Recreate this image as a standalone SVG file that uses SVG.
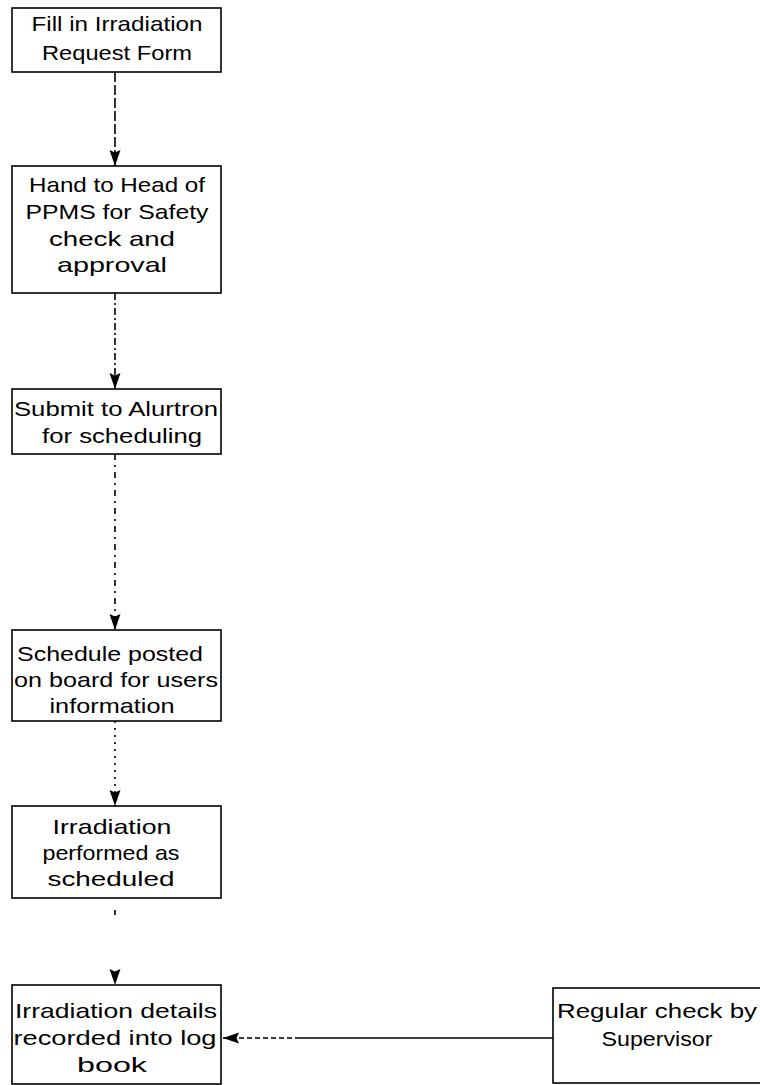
<svg xmlns="http://www.w3.org/2000/svg" width="760" height="1085" viewBox="0 0 760 1085">
<defs>
<style>
.box{fill:#fff;stroke:#000;stroke-width:1.6}
.t{font-family:"Liberation Sans",Arial,sans-serif;font-size:21px;fill:#000;text-anchor:middle}
.c{fill:none;stroke:#000;stroke-width:1.6}
</style>
<marker id="ah" markerWidth="18" markerHeight="14" refX="17" refY="7" orient="auto" markerUnits="userSpaceOnUse">
<path d="M1,1.5 L17,7 L1,12.5 L3.5,7 Z" fill="#000"/>
</marker>
</defs>
<rect width="760" height="1085" fill="#fff"/>
<g id="connectors">
<path class="c" d="M115,72 V166" stroke-dasharray="10 3" marker-end="url(#ah)"/>
<path class="c" d="M115,293 V389" stroke-dasharray="7 3 2 3" marker-end="url(#ah)"/>
<path class="c" d="M115,454 V630" stroke-dasharray="6 5 2 5" marker-end="url(#ah)"/>
<path class="c" d="M115,721 V806" stroke-dasharray="2 5" marker-end="url(#ah)"/>
<path class="c" d="M115,898 V985" stroke-dasharray="0 12 5 200" marker-end="url(#ah)"/>
<path class="c" d="M553,1038 H300"/>
<path class="c" d="M300,1038 H223" stroke-dasharray="5 3" marker-end="url(#ah)"/>
</g>
<g id="n1">
<rect class="box" x="12" y="8" width="209" height="64"/>
<text class="t" x="117" y="31" textLength="171" lengthAdjust="spacingAndGlyphs">Fill in Irradiation</text>
<text class="t" x="117" y="60" textLength="150" lengthAdjust="spacingAndGlyphs">Request Form</text>
</g>
<g id="n2">
<rect class="box" x="12" y="166" width="209" height="127"/>
<text class="t" x="117" y="192" textLength="176" lengthAdjust="spacingAndGlyphs">Hand to Head of</text>
<text class="t" x="117" y="219" textLength="183" lengthAdjust="spacingAndGlyphs">PPMS for Safety</text>
<text class="t" x="112" y="246" textLength="126" lengthAdjust="spacingAndGlyphs">check and</text>
<text class="t" x="112" y="272" textLength="110" lengthAdjust="spacingAndGlyphs">approval</text>
</g>
<g id="n3">
<rect class="box" x="12" y="389" width="209" height="65"/>
<text class="t" x="116" y="416" textLength="204" lengthAdjust="spacingAndGlyphs">Submit to Alurtron</text>
<text class="t" x="122" y="443" textLength="160" lengthAdjust="spacingAndGlyphs">for scheduling</text>
</g>
<g id="n4">
<rect class="box" x="12" y="630" width="209" height="91"/>
<text class="t" x="110" y="661" textLength="186" lengthAdjust="spacingAndGlyphs">Schedule posted</text>
<text class="t" x="116" y="687" textLength="204" lengthAdjust="spacingAndGlyphs">on board for users</text>
<text class="t" x="112" y="713" textLength="125" lengthAdjust="spacingAndGlyphs">information</text>
</g>
<g id="n5">
<rect class="box" x="12" y="806" width="209" height="92"/>
<text class="t" x="112" y="834" textLength="119" lengthAdjust="spacingAndGlyphs">Irradiation</text>
<text class="t" x="111" y="860" textLength="137" lengthAdjust="spacingAndGlyphs">performed as</text>
<text class="t" x="111" y="886" textLength="127" lengthAdjust="spacingAndGlyphs">scheduled</text>
</g>
<g id="n6">
<rect class="box" x="12" y="985" width="209" height="99"/>
<text class="t" x="116" y="1018" textLength="202" lengthAdjust="spacingAndGlyphs">Irradiation details</text>
<text class="t" x="115" y="1045" textLength="203" lengthAdjust="spacingAndGlyphs">recorded into log</text>
<text class="t" x="112" y="1072" textLength="70" lengthAdjust="spacingAndGlyphs">book</text>
</g>
<g id="n7">
<rect class="box" x="553" y="988" width="215" height="95"/>
<text class="t" x="657" y="1018" textLength="200" lengthAdjust="spacingAndGlyphs">Regular check by</text>
<text class="t" x="657" y="1046" textLength="111" lengthAdjust="spacingAndGlyphs">Supervisor</text>
</g>
</svg>
